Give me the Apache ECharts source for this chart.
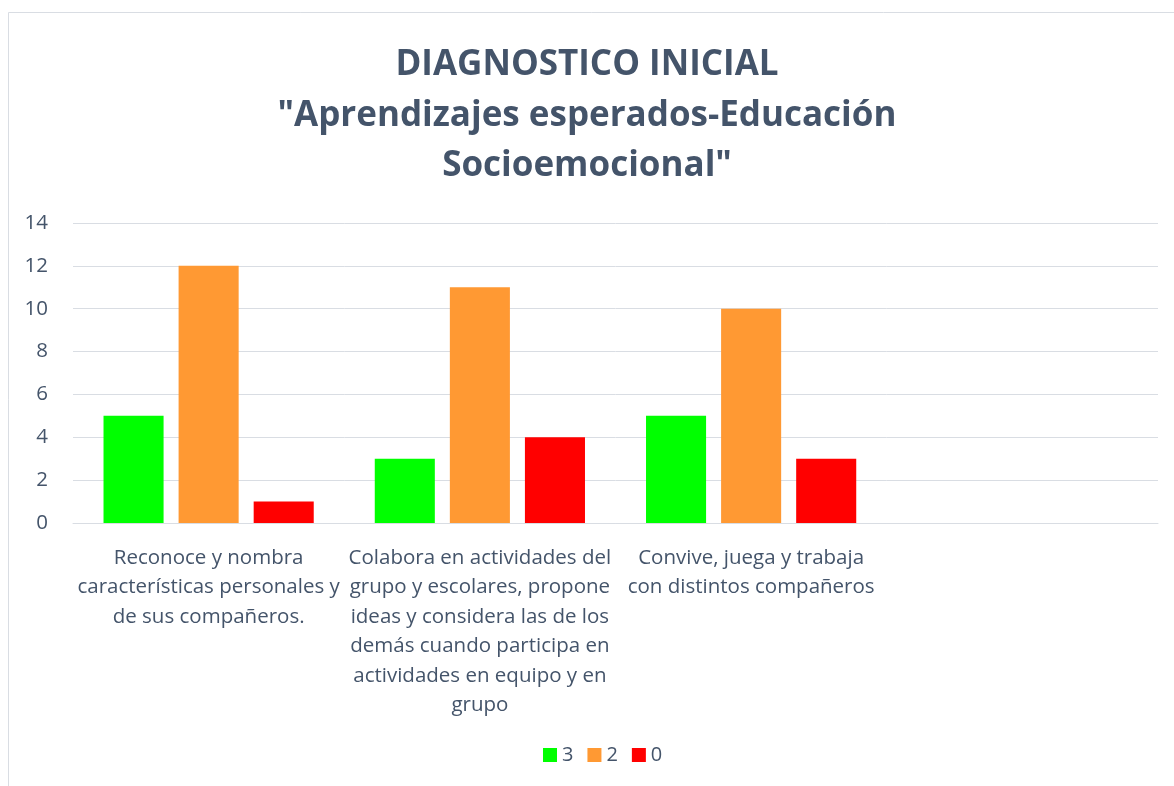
<!DOCTYPE html>
<html>
<head>
<meta charset="utf-8">
<script src="https://cdn.jsdelivr.net/npm/echarts@6/dist/echarts.min.js"></script>
<style>
    html, body { margin: 0; padding: 0; background: #fff; }
    #chart { width: 1174px; height: 786px; }
</style>
</head>
<body>
<div id="chart"></div>
<script>
    var titleText = 'DIAGNOSTICO INICIAL\n"Aprendizajes esperados-Educación\nSocioemocional"';
    // categorias (el cuarto grupo esta vacio en el original)
    var categories = [
        'Reconoce y nombra\ncaracterísticas personales y\nde sus compañeros.',
        'Colabora en actividades del\ngrupo y escolares, propone\nideas y considera las de los\ndemás cuando participa en\nactividades en equipo y en\ngrupo',
        'Convive, juega y trabaja\ncon distintos compañeros',
        ''
    ];
    var seriesNames = ['3', '2', '0'];
    var values3 = [5, 3, 5, '-'];
    var values2 = [12, 11, 10, '-'];
    var values0 = [1, 4, 3, '-'];
    var colors = ['#00ff00', '#ff9933', '#ff0000'];

    var textColor = '#44546a';
    var font = '"Open Sans", "Liberation Sans", sans-serif';

    var chart = echarts.init(document.getElementById('chart'));

    var option = {
        backgroundColor: '#fff',
        color: colors,
        textStyle: { fontFamily: font, color: textColor },
        title: {
            text: titleText,
            left: 'center',
            top: 35,
            textStyle: {
                fontFamily: font,
                fontSize: 35,
                fontWeight: 'bold',
                color: textColor,
                lineHeight: 50.5
            }
        },
        graphic: [{
            type: 'rect',
            shape: { x: 8.5, y: 12.5, width: 1200, height: 800 },
            style: { fill: 'none', stroke: '#d9dde3', lineWidth: 1 },
            silent: true
        }],
        legend: {
            bottom: 16,
            left: 538,
            itemWidth: 14,
            itemHeight: 14,
            itemGap: 14,
            icon: 'rect',
            textStyle: { fontFamily: font, fontSize: 20, color: textColor },
            data: seriesNames
        },
        grid: {
            left: 73,
            right: 16,
            top: 223,
            bottom: 263,
            containLabel: false
        },
        xAxis: {
            type: 'category',
            data: categories,
            axisLine: { show: true, lineStyle: { color: '#d9dde3', width: 1 } },
            axisTick: { show: false },
            axisLabel: {
                interval: 0,
                margin: 20,
                fontFamily: font,
                fontSize: 20.5,
                lineHeight: 29.5,
                color: textColor,
                align: 'center'
            }
        },
        yAxis: {
            type: 'value',
            min: 0,
            max: 14,
            interval: 2,
            axisLine: { show: false },
            axisTick: { show: false },
            splitLine: { lineStyle: { color: '#d9dde3', width: 1 } },
            axisLabel: {
                margin: 25,
                fontFamily: font,
                fontSize: 20.5,
                color: textColor
            }
        },
        series: [
            { name: seriesNames[0], type: 'bar', data: values3, barGap: '25%', barCategoryGap: '22.5%' },
            { name: seriesNames[1], type: 'bar', data: values2, barGap: '25%', barCategoryGap: '22.5%' },
            { name: seriesNames[2], type: 'bar', data: values0, barGap: '25%', barCategoryGap: '22.5%' }
        ]
    };

    chart.setOption(option);
</script>
</body>
</html>
